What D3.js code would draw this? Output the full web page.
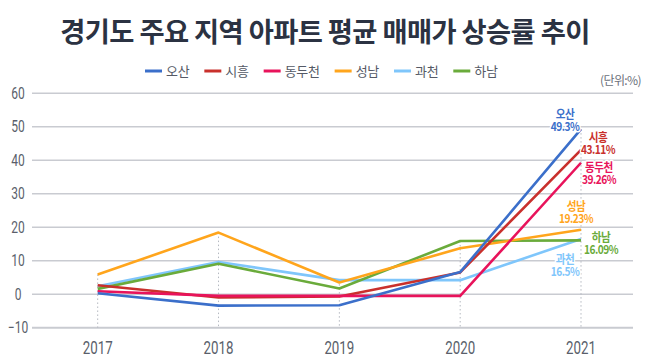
<!DOCTYPE html>
<html><head><meta charset="utf-8">
<script src="https://cdn.jsdelivr.net/npm/d3@7/dist/d3.min.js"></script>
<style>
html,body{margin:0;padding:0;background:#fff;}
svg{display:block;}
.num{font-family:"Roboto",sans-serif;}
</style></head>
<body><svg id="c" width="647" height="359"></svg>
<script>
const title = "경기도 주요 지역 아파트 평균 매매가 상승률 추이";
const unitLabel = "(단위:%)";
const years = ["2017","2018","2019","2020","2021"];
const seriesNames = ["오산","시흥","동두천","성남","과천","하남"];
const seriesColors = ["#3b6fca","#c9302c","#e8135b","#ffa51c","#7fc6fb","#6aab3b"];
const osan     = [0.3, -3.4, -3.3, 6.6, 49.3];
const siheung  = [2.7, -1.0, -0.7, 6.5, 43.11];
const dongducheon = [0.9, -0.5, -0.5, -0.5, 39.26];
const seongnam = [5.9, 18.4, 3.5, 13.7, 19.23];
const gwacheon = [2.4, 9.6, 4.2, 4.2, 16.5];
const hanam    = [1.6, 9.1, 1.7, 15.9, 16.09];
const endLabels = ["49.3%","43.11%","39.26%","19.23%","16.5%","16.09%"];
const yTicks = [-10, 0, 10, 20, 30, 40, 50, 60];

const values = [osan, siheung, dongducheon, seongnam, gwacheon, hanam];
const series = seriesNames.map((n,i)=>({name:n, color:seriesColors[i], values:values[i], label:endLabels[i]}));
// end-label offsets (value line baseline) relative to final point (layout, not data)
const labelOffsets = {"오산":[-16,2],"시흥":[17,4],"동두천":[18,21],"성남":[-5,-7],"과천":[-16,37],"하남":[20,14]};
const drawOrder = ["과천","하남","성남","시흥","동두천","오산"];

const svg = d3.select("#c");
const x = d3.scalePoint().domain(years).range([97.7, 581]);
const y = d3.scaleLinear().domain([-10, 60]).range([327.7, 93.3]);
const gridX0 = 32, gridX1 = 633;

// title
svg.append("text").attr("x",325).attr("y",42).attr("text-anchor","middle")
  .attr("font-family","'Noto Sans CJK KR',sans-serif").attr("font-weight",700)
  .attr("font-size",27.3).attr("letter-spacing",-0.6).attr("fill","#2b3242").text(title);

// legend
const lg = svg.append("g").attr("transform","translate(145,71)");
let lx = 0;
series.forEach(s=>{
  lg.append("line").attr("x1",lx).attr("x2",lx+17).attr("y1",0).attr("y2",0)
    .attr("stroke",s.color).attr("stroke-width",3);
  const t = lg.append("text").attr("x",lx+21).attr("y",5)
    .attr("font-family","'Noto Sans CJK KR',sans-serif").attr("font-size",13)
    .attr("letter-spacing",-0.3).attr("fill","#555a66").text(s.name);
  lx += 21 + t.node().getComputedTextLength() + 15;
});

svg.append("text").attr("x",641).attr("y",85).attr("text-anchor","end")
  .attr("font-family","'Noto Sans CJK KR',sans-serif").attr("font-size",12)
  .attr("letter-spacing",-0.6).attr("fill","#6a6f7a").text(unitLabel);

// grid
svg.append("g").selectAll("line").data(yTicks).join("line")
  .attr("x1",gridX0).attr("x2",gridX1)
  .attr("y1",d=>y(d)).attr("y2",d=>y(d))
  .attr("stroke","#c9cbd1").attr("stroke-width",d=>d===-10?2:1.4);

// y labels (condensed via horizontal scale)
svg.append("g").selectAll("text").data(yTicks).join("text")
  .attr("class","num").attr("transform",d=>`translate(18,${y(d)+5.5}) scale(0.75,1)`)
  .attr("text-anchor","middle")
  .attr("font-size",16).attr("fill","#5a5f6b").text(d=>d===-10?"−10":d);

// x labels
svg.append("g").selectAll("text").data(years).join("text")
  .attr("class","num").attr("transform",d=>`translate(${x(d)},354) scale(0.74,1)`)
  .attr("text-anchor","middle")
  .attr("font-size",18).attr("fill","#5a5f6b").text(d=>d);

// dotted verticals
svg.append("g").selectAll("line").data(years).join("line")
  .attr("x1",d=>x(d)).attr("x2",d=>x(d))
  .attr("y1",(d,i)=>y(d3.max(values,v=>v[i]))).attr("y2",y(-10))
  .attr("stroke","#b4b8c0").attr("stroke-width",1).attr("stroke-dasharray","1.5,2.5");

// lines
const line = d3.line().x((d,i)=>x(years[i])).y(d=>y(d));
const ordered = drawOrder.map(n=>series.find(s=>s.name===n));
svg.append("g").selectAll("path").data(ordered).join("path")
  .attr("d",d=>line(d.values)).attr("fill","none")
  .attr("stroke",d=>d.color).attr("stroke-width",2.6).attr("stroke-linejoin","round");

// end labels
const lab = svg.append("g");
series.forEach(s=>{
  const px = x(years[years.length-1]), py = y(s.values[s.values.length-1]);
  const [dx,dy] = labelOffsets[s.name];
  const g = lab.append("g").attr("transform",`translate(${px+dx},${py+dy}) scale(0.85,1)`);
  [[s.name,-12,12.5],[s.label,0,12]].forEach(([txt,off,fs])=>{
    g.append("text").attr("x",0).attr("y",off)
      .attr("text-anchor","middle").attr("font-family","'Noto Sans CJK KR',sans-serif")
      .attr("font-weight",700).attr("font-size",fs).attr("letter-spacing",-0.6)
      .attr("fill",s.color).attr("stroke","#fff").attr("stroke-width",3)
      .attr("paint-order","stroke").attr("stroke-linejoin","round").text(txt);
  });
});
</script></body></html>
